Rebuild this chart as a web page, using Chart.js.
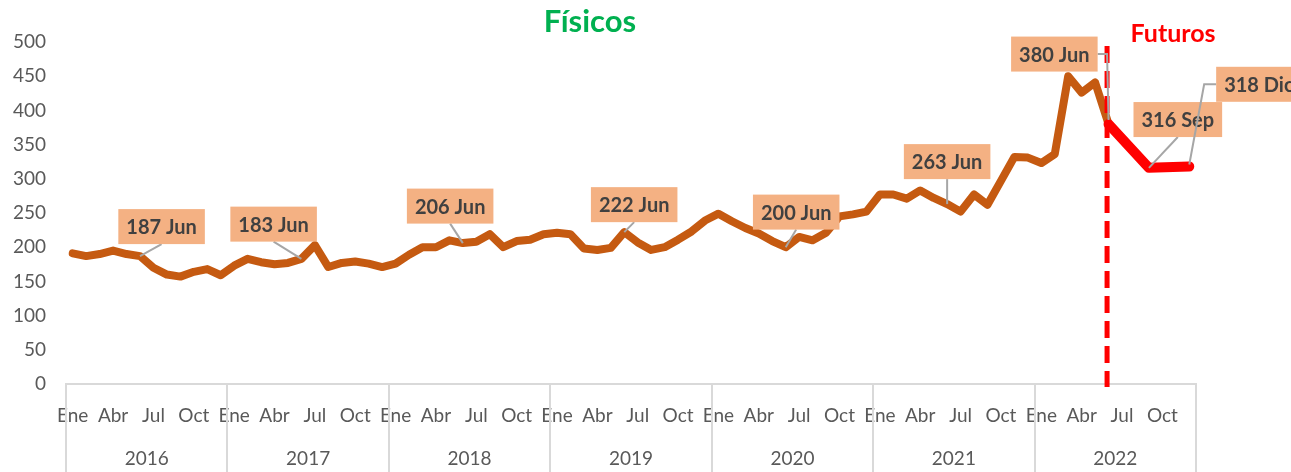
<!DOCTYPE html>
<html><head><meta charset="utf-8">
<script src="https://cdn.jsdelivr.net/npm/chart.js@4.4.1/dist/chart.umd.min.js"></script>
<style>html,body{margin:0;padding:0;background:#fff}</style>
</head><body>
<canvas id="c" width="1291" height="472"></canvas>
<script>
// ---------- data ----------
const years = ['2016','2017','2018','2019','2020','2021','2022'];
const months = ['Ene','Feb','Mar','Abr','May','Jun','Jul','Ago','Sep','Oct','Nov','Dic'];
const tickMonths = ['Ene','Abr','Jul','Oct'];
const yMin = 0, yMax = 500, yStep = 50;

const fisicos = [
  191,187,190,195,190,187,170,160,157,164,168,159,   // 2016
  173,183,178,175,177,183,203,171,177,179,176,171,   // 2017
  176,189,200,200,210,206,208,219,200,209,211,219,   // 2018
  221,219,198,196,199,222,207,196,200,211,223,239,   // 2019
  249,238,228,220,209,200,215,210,221,245,248,252,   // 2020
  277,277,271,283,272,263,252,277,262,297,332,331,   // 2021
  323,336,450,426,441,380,null,null,null,null,null,null // 2022
];
const futuros = [
  null,null,null,null,null,null,null,null,null,null,null,null,
  null,null,null,null,null,null,null,null,null,null,null,null,
  null,null,null,null,null,null,null,null,null,null,null,null,
  null,null,null,null,null,null,null,null,null,null,null,null,
  null,null,null,null,null,null,null,null,null,null,null,null,
  null,null,null,null,null,null,null,null,null,null,null,null,
  null,null,null,null,null,380,null,null,316,null,null,318
];
const labelIdxFisicos = [5,17,29,41,53,65,77];
const labelIdxFuturos = [80,83];
const futurosStartIdx = 77;
const titleText = 'Físicos';
const futurosText = 'Futuros';

// ---------- styles ----------
const categories = [];
years.forEach(y => months.forEach(m => categories.push(m + ' ' + y)));

const labelStyle = {               // box-centre offsets from the point, leader type
  5:  {dx: 21.6, dy: -29.5, leader: 'bottom'},
  17: {dx: -27.8, dy: -34.7, leader: 'bottom'},
  29: {dx: -12.7, dy: -37, leader: 'bottom'},
  41: {dx: 9.9, dy: -27.5, leader: 'bottom'},
  53: {dx: 10.5, dy: -35.1, leader: 'bottom'},
  65: {dx: 0, dy: -42.5, leader: 'bottom'},
  77: {dx: -54.2, dy: -70, leader: 'right'},
  80: {dx: 28.9, dy: -48.3, leader: 'bottom'},
  83: {dx: 69.6, dy: -82.2, leader: 'left'}
};
const AXIS_FONT = 'Lato';
const GRAY = '#595959';

const decor = {
  id: 'decor',
  afterDraw(chart) {
    const {ctx, chartArea: a, scales: {x}} = chart;
    ctx.save();
    const half = (x.getPixelForValue(1) - x.getPixelForValue(0)) / 2;
    // year separators
    ctx.strokeStyle = '#D9D9D9';
    ctx.lineWidth = 2;
    for (let k = 0; k <= years.length; k++) {
      const px = k < years.length ? x.getPixelForValue(k * 12) - half
                                  : x.getPixelForValue(years.length * 12 - 1) + half;
      ctx.beginPath();
      ctx.moveTo(Math.round(px), a.bottom);
      ctx.lineTo(Math.round(px), chart.height);
      ctx.stroke();
    }
    // year labels
    ctx.fillStyle = GRAY;
    ctx.font = '19px ' + AXIS_FONT;
    ctx.textAlign = 'center';
    ctx.textBaseline = 'middle';
    years.forEach((yr, k) => {
      const cx = (x.getPixelForValue(k * 12) + x.getPixelForValue(k * 12 + 11)) / 2;
      ctx.fillText(yr, cx, 459);
    });
    ctx.restore();
  },
  afterDatasetsDraw(chart) {
    const {ctx, chartArea: a, scales: {x}} = chart;
    ctx.save();
    // dashed divider at start of futures
    const dxp = x.getPixelForValue(futurosStartIdx) - 1.5;
    ctx.strokeStyle = '#FF0000';
    ctx.lineWidth = 5;
    ctx.setLineDash([17, 8]);
    ctx.beginPath();
    ctx.moveTo(dxp, 46);
    ctx.lineTo(dxp, a.bottom + 3);
    ctx.stroke();
    ctx.setLineDash([]);

    // titles
    ctx.textAlign = 'center';
    ctx.textBaseline = 'middle';
    ctx.fillStyle = '#00B050';
    ctx.font = 'bold 31px ' + AXIS_FONT;
    ctx.fillText(titleText, 590, 22);
    ctx.fillStyle = '#FF0000';
    ctx.font = 'bold 25px ' + AXIS_FONT;
    ctx.fillText(futurosText, dxp + 66, 34);

    // data labels
    const items = [];
    const m0 = chart.getDatasetMeta(1), m1 = chart.getDatasetMeta(0);
    labelIdxFisicos.forEach(i => items.push({i, v: fisicos[i], pt: m0.data[i]}));
    labelIdxFuturos.forEach(i => items.push({i, v: futuros[i], pt: m1.data[i]}));
    ctx.font = 'bold 20px ' + AXIS_FONT;
    items.forEach(({i, v, pt}) => {
      const st = labelStyle[i];
      const txt = v + ' ' + months[i % 12];
      const w = ctx.measureText(txt).width + 16;
      const h = 35;
      const cx = pt.x + st.dx, cy = pt.y + st.dy;
      const L = cx - w / 2, T = cy - h / 2;
      // leader
      ctx.strokeStyle = '#A6A6A6';
      ctx.lineWidth = 2;
      ctx.beginPath();
      if (st.leader === 'bottom') {
        ctx.moveTo(cx, T + h);
        ctx.lineTo(pt.x, pt.y);
      } else if (st.leader === 'right') {
        ctx.moveTo(L + w, cy);
        ctx.lineTo(pt.x - 1.5, cy);
        ctx.lineTo(pt.x, pt.y - 4);
      } else {
        ctx.moveTo(L, cy);
        ctx.lineTo(L - 12, cy);
        ctx.lineTo(pt.x, pt.y - 2);
      }
      ctx.stroke();
      // box
      ctx.fillStyle = '#F4B183';
      ctx.fillRect(L, T, w, h);
      ctx.fillStyle = '#404040';
      ctx.fillText(txt, cx, cy + 1);
    });
    ctx.restore();
  }
};

new Chart(document.getElementById('c'), {
  type: 'line',
  data: {
    labels: categories,
    datasets: [
      {
        label: 'Futuros', data: futuros, borderColor: '#FF0000', borderWidth: 10,
        pointRadius: 0, spanGaps: true, tension: 0,
        borderCapStyle: 'round', borderJoinStyle: 'round', order: 0
      },
      {
        label: 'Físicos', data: fisicos, borderColor: '#C55A11', borderWidth: 8,
        pointRadius: 0, spanGaps: false, tension: 0,
        borderCapStyle: 'round', borderJoinStyle: 'round', order: 1
      }
    ]
  },
  options: {
    responsive: false,
    animation: false,
    events: [],
    layout: {padding: {top: 42, right: 95, left: 0, bottom: 0}},
    plugins: {legend: {display: false}, tooltip: {enabled: false}, title: {display: false}},
    scales: {
      x: {
        offset: true,
        grid: {display: false, drawTicks: false},
        border: {display: true, color: '#D9D9D9', width: 2},
        ticks: {
          autoSkip: false, maxRotation: 0, minRotation: 0, padding: 20,
          color: GRAY, font: {family: AXIS_FONT, size: 19},
          callback: (v, idx) => tickMonths.includes(months[idx % 12]) ? months[idx % 12] : ''
        },
        afterFit: s => { s.height = 88; }
      },
      y: {
        min: yMin, max: yMax,
        grid: {display: false, drawTicks: false},
        border: {display: false},
        ticks: {stepSize: yStep, padding: 20, color: GRAY, font: {family: AXIS_FONT, size: 19}},
        afterFit: s => { s.width = 66; }
      }
    }
  },
  plugins: [decor]
});
</script>
</body></html>
